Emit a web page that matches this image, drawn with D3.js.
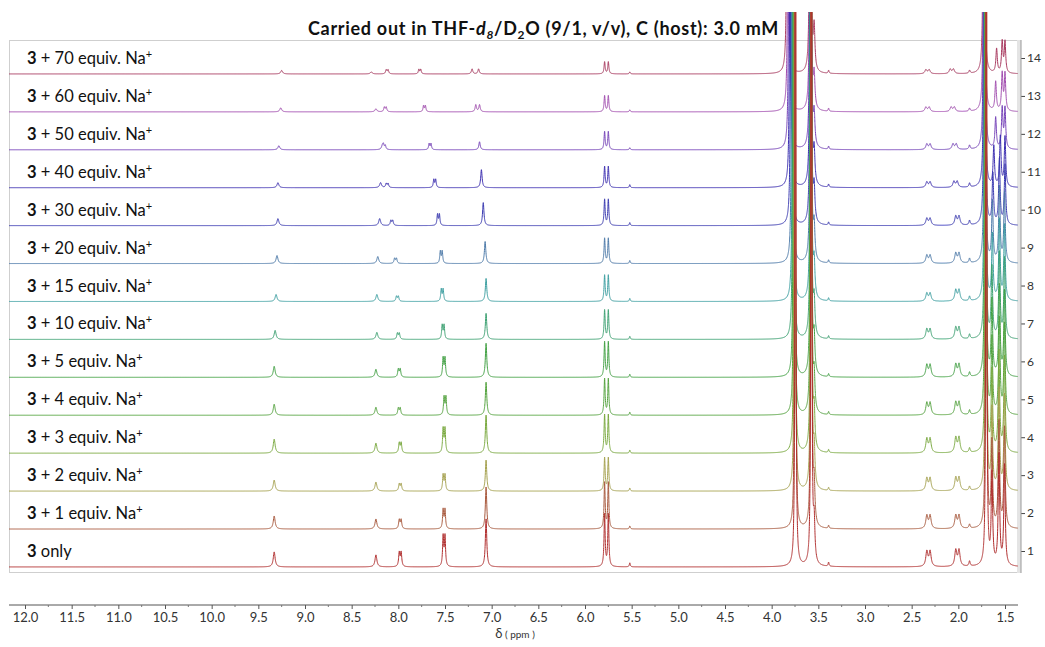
<!DOCTYPE html>
<html>
<head>
<meta charset="utf-8">
<script src="https://cdn.jsdelivr.net/npm/d3@7"></script>
<style>
  body { margin: 0; background: #fff; }
  svg { display: block; font-family: Lato, "Open Sans", sans-serif; }
</style>
</head>
<body>
<svg id="nmr" width="1045" height="647"></svg>
<script>
// equivalents of Na+ added, spectrum 1 (bottom) .. spectrum 14 (top)
const naEquiv = [0, 1, 2, 3, 4, 5, 10, 15, 20, 30, 40, 50, 60, 70];
const stackTicks = d3.range(1, 15);
const ppmTicks = d3.range(12, 1.49, -0.5);

// signals: shift (ppm) and height (a.u.) per spectrum
const sigSplit = [0, 0, 0.02, 0.02, 0, 0, 0.04, 0, 0, 0, 0, 0, 0.035, 0.035, 0, 0, 0, 0, 0];
const sigWidth = [0.012, 0.012, 0.008, 0.007, 0.009, 0.009, 0.007, 0.006, 0.0035, 0.0035, 0.01, 0.006, 0.013, 0.013, 0.008, 0.0035, 0.009, 0.009, 0.009];
const sigShift = [
  [9.33, 9.33, 9.33, 9.33, 9.33, 9.33, 9.32, 9.31, 9.30, 9.29, 9.29, 9.28, 9.26, 9.25],
  [8.24, 8.24, 8.24, 8.24, 8.24, 8.24, 8.23, 8.23, 8.22, 8.20, 8.19, 8.17, 8.24, 8.29],
  [7.98, 7.98, 7.98, 7.98, 7.99, 7.99, 8.00, 8.01, 8.03, 8.07, 8.12, 8.15, 8.14, 8.12],
  [7.51, 7.51, 7.51, 7.51, 7.50, 7.51, 7.52, 7.53, 7.54, 7.57, 7.61, 7.66, 7.72, 7.77],
  [7.06, 7.06, 7.06, 7.06, 7.06, 7.06, 7.06, 7.06, 7.07, 7.09, 7.11, 7.13, 7.13, 7.14],
  [7.06, 7.06, 7.06, 7.06, 7.06, 7.06, 7.06, 7.06, 7.07, 7.09, 7.11, 7.13, 7.17, 7.21],
  [5.77, 5.77, 5.77, 5.77, 5.77, 5.77, 5.77, 5.77, 5.77, 5.77, 5.77, 5.77, 5.77, 5.77],
  [5.52, 5.52, 5.52, 5.52, 5.52, 5.52, 5.52, 5.52, 5.52, 5.52, 5.52, 5.52, 5.52, 5.52],
  [3.745, 3.748, 3.752, 3.755, 3.758, 3.762, 3.768, 3.772, 3.78, 3.79, 3.80, 3.81, 3.82, 3.83],
  [3.575, 3.575, 3.576, 3.577, 3.578, 3.579, 3.58, 3.58, 3.581, 3.582, 3.583, 3.584, 3.585, 3.586],
  [3.545, 3.545, 3.545, 3.545, 3.545, 3.545, 3.545, 3.545, 3.545, 3.545, 3.545, 3.545, 3.545, 3.545],
  [3.39, 3.39, 3.39, 3.39, 3.39, 3.39, 3.39, 3.39, 3.39, 3.39, 3.39, 3.39, 3.39, 3.39],
  [2.32, 2.32, 2.32, 2.32, 2.32, 2.32, 2.32, 2.32, 2.32, 2.32, 2.32, 2.32, 2.33, 2.33],
  [2.01, 2.01, 2.01, 2.01, 2.01, 2.01, 2.01, 2.01, 2.01, 2.01, 2.03, 2.04, 2.06, 2.07],
  [1.88, 1.88, 1.88, 1.88, 1.88, 1.88, 1.88, 1.88, 1.88, 1.88, 1.88, 1.88, 1.88, 1.88],
  [1.70, 1.702, 1.704, 1.706, 1.708, 1.71, 1.712, 1.714, 1.716, 1.718, 1.72, 1.722, 1.724, 1.726],
  [1.64, 1.64, 1.64, 1.64, 1.64, 1.64, 1.64, 1.635, 1.635, 1.63, 1.62, 1.60, 1.60, 1.59],
  [1.565, 1.565, 1.565, 1.565, 1.56, 1.56, 1.56, 1.56, 1.56, 1.56, 1.55, 1.53, 1.53, 1.53],
  [1.505, 1.505, 1.505, 1.505, 1.505, 1.505, 1.505, 1.505, 1.505, 1.50, 1.50, 1.50, 1.50, 1.50]
];
const sigHeight = [
  [15, 13, 11, 14, 11, 11, 9, 7, 8, 7, 5, 4, 4, 3.5],
  [12, 10, 9, 10, 8, 8, 7, 7, 7, 7, 5, 4, 3, 2],
  [14, 9, 7, 10, 7, 8, 6, 5, 5, 5, 4, 4, 4.5, 4],
  [30, 19, 16, 24, 18, 19, 14, 12, 12, 11, 8, 6, 6, 4.5],
  [48, 42, 31, 38, 33, 34, 26, 23, 22, 23, 18, 8, 7, 5],
  [0, 0, 0, 0, 0, 0, 0, 0, 0, 0, 0, 0, 7, 5],
  [52, 46, 33, 38, 36, 35, 29, 26, 25, 26, 21, 18, 16, 12],
  [4, 3, 3, 3, 3, 3, 3, 3, 3, 3, 3, 2, 2, 2],
  [1500, 1500, 1500, 1500, 1500, 1500, 1500, 1500, 1500, 1500, 1500, 1500, 1500, 1500],
  [1500, 1500, 1500, 1500, 1500, 1500, 1500, 1500, 1500, 1500, 1500, 1500, 1500, 1500],
  [40, 40, 38, 38, 36, 36, 35, 35, 34, 34, 33, 32, 33, 43],
  [4, 3, 3, 3, 3, 3, 3, 3, 3, 3, 3, 3, 3, 3],
  [15, 13, 12.5, 14, 12, 12, 10, 8, 8, 7, 5.5, 5.5, 4.5, 4],
  [16, 13, 13, 15, 12.5, 12.5, 11.5, 11, 10, 9, 6, 5.5, 4.5, 4.5],
  [5, 4, 4, 4.5, 4.5, 4.5, 4.5, 4.5, 4.5, 4.5, 4, 4, 3, 3],
  [1500, 1500, 1500, 1500, 1500, 1500, 1500, 1500, 1500, 1500, 1500, 1500, 1500, 1500],
  [90, 85, 80, 80, 75, 75, 70, 65, 60, 50, 40, 31, 29, 24],
  [110, 105, 100, 100, 95, 90, 85, 80, 75, 65, 50, 40, 37, 31],
  [100, 100, 95, 95, 90, 85, 80, 75, 70, 60, 50, 40, 37, 31]
];

const rowColors = ["#b02c2c", "#a8583c", "#a4a04c", "#78a83c", "#52a23c", "#40a042", "#3aa070",
                   "#3a9ea0", "#4a78a8", "#3838b0", "#3a2cb0", "#7440b8", "#a04aae", "#a8385e"];

const svg = d3.select("#nmr");
const frame = { left: 9, right: 1018, top: 40, bottom: 572 };

const x = d3.scaleLinear().domain([12, 1.5]).range([25, 1005]);
const yRow = d3.scaleLinear().domain([1, 14]).range([551, 58]);
const amp = d3.scaleLinear().domain([0, 100]).range([0, 100]);
const baseShift = 0.42; // baseline sits a little below the stack tick

const ppmMax = x.invert(frame.left), ppmMin = x.invert(frame.right);

function spectrum(r) {
  const lines = [];
  sigShift.forEach((s, k) => {
    const h = sigHeight[k][r];
    if (!h) return;
    const J = sigSplit[k], w = sigWidth[k];
    if (J) lines.push([s[r] - J / 2, h, w], [s[r] + J / 2, h, w]);
    else lines.push([s[r], h, w]);
  });
  const grid = d3.range(ppmMax, ppmMin, -0.004);
  lines.forEach(([c, , w]) => { for (let k = -90; k <= 90; k++) grid.push(c + k * w / 6); });
  grid.sort((a, b) => b - a);
  return grid.filter(p => p <= ppmMax && p >= ppmMin)
    .map(p => [p, d3.sum(lines, ([c, h, w]) => h * w * w / (w * w + (p - c) * (p - c)))]);
}

// frame
svg.append("rect")
  .attr("x", frame.left + 0.5).attr("y", frame.top + 0.5)
  .attr("width", frame.right - frame.left).attr("height", frame.bottom - frame.top)
  .attr("fill", "none").attr("stroke", "#cfcfcf");
svg.append("rect")
  .attr("x", frame.right - 1).attr("y", frame.top)
  .attr("width", 4).attr("height", frame.bottom - frame.top + 1)
  .attr("fill", "#e4e4e4");

svg.append("clipPath").attr("id", "clip")
  .append("rect").attr("x", frame.left).attr("y", 12)
  .attr("width", frame.right - frame.left).attr("height", frame.bottom - 12);

const plot = svg.append("g").attr("clip-path", "url(#clip)");
const rows = d3.range(13, -1, -1); // top spectrum first, "3 only" drawn last
rows.forEach(r => {
  const base = yRow(r + 1 - baseShift);
  const line = d3.line().x(d => x(d[0])).y(d => base - amp(d[1]));
  plot.append("path")
    .datum(spectrum(r))
    .attr("d", line)
    .attr("fill", "none")
    .attr("stroke", rowColors[r])
    .attr("stroke-width", 1)
    .attr("stroke-linejoin", "round");
});

// row labels
naEquiv.forEach((n, r) => {
  const t = svg.append("text")
    .attr("x", 27).attr("y", yRow(r + 1) + 6)
    .attr("font-size", 16.5).attr("fill", "#111");
  t.append("tspan").attr("font-weight", "bold").text("3");
  if (n === 0) { t.append("tspan").text(" only"); return; }
  t.append("tspan").text(` + ${n} equiv. Na`);
  t.append("tspan").attr("font-size", 11).attr("dy", -6).text("+");
});

// title
const title = svg.append("text")
  .attr("x", 308).attr("y", 35)
  .attr("font-size", 18).attr("font-weight", "bold").attr("letter-spacing", 0.7).attr("fill", "#111");
title.append("tspan").text("Carried out in THF-");
title.append("tspan").attr("font-style", "italic").text("d");
title.append("tspan").attr("font-style", "italic").attr("font-size", 12).attr("dy", 4).text("8");
title.append("tspan").attr("dy", -4).text("/D");
title.append("tspan").attr("font-size", 12).attr("dy", 4).text("2");
title.append("tspan").attr("dy", -4).text("O (9/1, v/v), C (host): 3.0 mM");

// right stack axis
const yAxis = svg.append("g")
  .attr("transform", `translate(${frame.right + 3},0)`)
  .call(d3.axisRight(yRow).tickValues(stackTicks).tickSize(4).tickPadding(2).tickFormat(d3.format("d")));
yAxis.select(".domain").remove();
yAxis.append("line").attr("y1", frame.top).attr("y2", frame.bottom + 1).attr("stroke", "#999");
yAxis.selectAll(".tick line").attr("stroke", "#444");
yAxis.selectAll("text").attr("font-size", 12).attr("fill", "#333").attr("font-family", "Lato, sans-serif");

// bottom ppm axis
const xAxis = svg.append("g")
  .attr("transform", "translate(0,605)")
  .call(d3.axisBottom(x).tickValues(ppmTicks).tickSize(4).tickPadding(4).tickFormat(d3.format(".1f")));
xAxis.select(".domain").remove();
xAxis.append("line").attr("x1", frame.left).attr("x2", frame.right).attr("stroke", "#555");
xAxis.selectAll(".tick line").attr("stroke", "#555");
xAxis.selectAll("text").attr("font-size", 13).attr("fill", "#333").attr("font-family", "Lato, sans-serif");
xAxis.selectAll(".minor").data(d3.range(11.75, 1.6, -0.5)).enter().append("line")
  .attr("class", "minor")
  .attr("x1", d => x(d)).attr("x2", d => x(d))
  .attr("y1", 0).attr("y2", 2).attr("stroke", "#777");

const xt = svg.append("text")
  .attr("x", x(6.75)).attr("y", 638).attr("text-anchor", "middle")
  .attr("font-size", 13).attr("fill", "#333");
xt.append("tspan").text("δ");
xt.append("tspan").attr("font-size", 10).text(" ( ppm )");
</script>
</body>
</html>
